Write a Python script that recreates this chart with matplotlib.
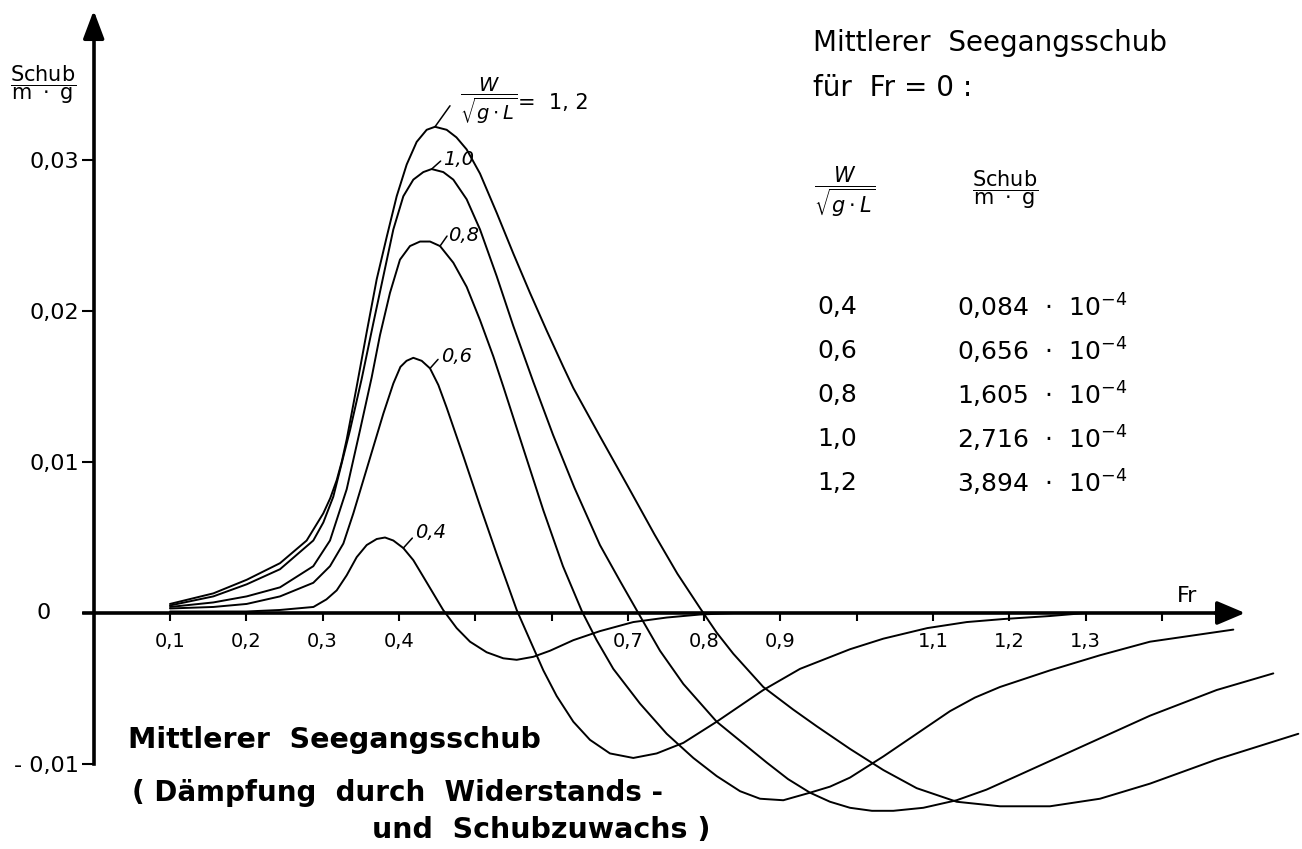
import matplotlib
matplotlib.use("Agg")
import matplotlib.pyplot as plt

plt.rcParams['font.family'] = ['DejaVu Sans']
plt.rcParams['mathtext.fontset'] = 'dejavusans'

# mittlerer Seegangsschub Schub/(m*g) over Fr, one list pair per W/sqrt(g*L)
fr_04 = [0.10, 0.15, 0.20, 0.244, 0.288, 0.305, 0.3185, 0.3316, 0.3447, 0.3578, 0.3709, 0.3818,
         0.3927, 0.4058, 0.4189, 0.4320, 0.4450, 0.4580, 0.4757, 0.4932, 0.5150, 0.5368, 0.5544, 0.5762,
         0.5980, 0.6286, 0.6635, 0.7072, 0.7510, 0.7947, 0.84]
sc_04 = [0.0001, 0.0001, 0.0001, 0.0002, 0.0004, 0.0009, 0.0015, 0.0025, 0.0037, 0.0045, 0.0049, 0.0050,
         0.0048, 0.0043, 0.0035, 0.0024, 0.0013, 0.0002, -0.0010, -0.0019, -0.0026, -0.0030, -0.0031, -0.0029,
         -0.0025, -0.0018, -0.0012, -0.0006, -0.0003, -0.0001, 0.0]

fr_06 = [0.10, 0.1568, 0.2005, 0.2442, 0.2878, 0.3097, 0.3272, 0.3403, 0.3534, 0.3665, 0.3796, 0.3927,
         0.4020, 0.4100, 0.4189, 0.4299, 0.4408, 0.4517, 0.4626, 0.4735, 0.4844, 0.5063, 0.5282, 0.5544,
         0.5718, 0.5893, 0.6068, 0.6286, 0.6504, 0.6766, 0.7072, 0.7379, 0.7728, 0.8165, 0.8776, 0.9257,
         0.9912, 1.0349, 1.0925, 1.1442, 1.1921, 1.2533, 1.30]
sc_06 = [0.0003, 0.0004, 0.0006, 0.0011, 0.0020, 0.0031, 0.0046, 0.0066, 0.0088, 0.0110, 0.0132, 0.0152,
         0.0163, 0.0167, 0.0169, 0.0167, 0.0162, 0.0151, 0.0136, 0.0120, 0.0104, 0.0071, 0.0039, 0.0002,
         -0.0018, -0.0038, -0.0055, -0.0072, -0.0084, -0.0093, -0.0096, -0.0093, -0.0086, -0.0072, -0.0051, -0.0037,
         -0.0024, -0.0017, -0.0010, -0.0006, -0.0004, -0.0002, 0.0]

fr_08 = [0.10, 0.1568, 0.2005, 0.2442, 0.2878, 0.3097, 0.3316, 0.3490, 0.3643, 0.3752, 0.3883, 0.4014,
         0.4145, 0.4277, 0.4408, 0.4539, 0.4713, 0.4888, 0.5063, 0.5237, 0.5368, 0.5630, 0.5893, 0.6150,
         0.640, 0.6592, 0.6810, 0.7160, 0.7510, 0.7859, 0.8165, 0.8471, 0.8733, 0.9038, 0.9388, 0.9650,
         0.9912, 1.0130, 1.0349, 1.0786, 1.1223, 1.155, 1.1878, 1.2533, 1.3188, 1.3844, 1.4936]
sc_08 = [0.0004, 0.0007, 0.0011, 0.0017, 0.0031, 0.0048, 0.0082, 0.0121, 0.0156, 0.0184, 0.0212, 0.0234,
         0.0243, 0.0246, 0.0246, 0.0243, 0.0232, 0.0216, 0.0194, 0.0170, 0.0150, 0.0109, 0.0068, 0.0031,
         0.0001, -0.0018, -0.0037, -0.0060, -0.0080, -0.0096, -0.0108, -0.0118, -0.0123, -0.0124, -0.0119, -0.0115,
         -0.0109, -0.0102, -0.0095, -0.0080, -0.0065, -0.0056, -0.0049, -0.0038, -0.0028, -0.0019, -0.0011]

fr_10 = [0.10, 0.1568, 0.2005, 0.2442, 0.2878, 0.3010, 0.3140, 0.3359, 0.3512, 0.3665, 0.3796, 0.3927,
         0.4058, 0.4189, 0.4320, 0.4429, 0.4582, 0.4713, 0.4888, 0.5063, 0.5282, 0.5500, 0.5762, 0.6020,
         0.6300, 0.6635, 0.6900, 0.716, 0.7422, 0.7728, 0.8165, 0.8820, 0.9100, 0.9388, 0.9650, 0.9912,
         1.020, 1.048, 1.0873, 1.131, 1.170, 1.2097, 1.2970, 1.3844, 1.4718, 1.5460]
sc_10 = [0.0005, 0.0011, 0.0019, 0.0029, 0.0048, 0.0060, 0.0077, 0.0121, 0.0155, 0.0192, 0.0223, 0.0254,
         0.0276, 0.0287, 0.0292, 0.0294, 0.0292, 0.0287, 0.0274, 0.0254, 0.0223, 0.0190, 0.0153, 0.0118,
         0.0083, 0.0045, 0.0021, -0.0002, -0.0025, -0.0047, -0.0072, -0.0099, -0.0110, -0.0119, -0.0125, -0.0129,
         -0.0131, -0.0131, -0.0129, -0.0124, -0.0117, -0.0108, -0.0088, -0.0068, -0.0051, -0.0040]

fr_12 = [0.10, 0.1568, 0.2005, 0.2442, 0.2791, 0.3009, 0.3100, 0.3185, 0.3250, 0.3316, 0.3380, 0.3447,
         0.3578, 0.3709, 0.3840, 0.3971, 0.4102, 0.4233, 0.4364, 0.4473, 0.4626, 0.4754, 0.4888, 0.5063,
         0.5282, 0.5500, 0.5718, 0.5937, 0.6155, 0.6286, 0.6635, 0.700, 0.735, 0.765, 0.795, 0.8165,
         0.8383, 0.8776, 0.9169, 0.9476, 0.9912, 1.0349, 1.0786, 1.131, 1.1878, 1.2533, 1.3188, 1.3844,
         1.4718, 1.5788]
sc_12 = [0.0006, 0.0013, 0.0022, 0.0033, 0.0048, 0.0066, 0.0076, 0.0088, 0.0100, 0.0115, 0.0132, 0.0150,
         0.0186, 0.0221, 0.0249, 0.0276, 0.0297, 0.0312, 0.0320, 0.0322, 0.0320, 0.0315, 0.0307, 0.0291,
         0.0265, 0.0238, 0.0212, 0.0187, 0.0163, 0.0149, 0.0117, 0.0084, 0.0052, 0.0026, 0.0003, -0.0013,
         -0.0027, -0.0049, -0.0064, -0.0075, -0.0090, -0.0104, -0.0116, -0.0125, -0.0128, -0.0128, -0.0123, -0.0113,
         -0.0097, -0.0080]

x_ticks = [0.1, 0.2, 0.3, 0.4, 0.5, 0.6, 0.7, 0.8, 0.9, 1.0, 1.1, 1.2, 1.3, 1.4]
x_labels = ['0,1', '0,2', '0,3', '0,4', '', '', '0,7', '0,8', '0,9', '', '1,1', '1,2', '1,3', '']
y_ticks = [-0.01, 0.0, 0.01, 0.02, 0.03]
y_labels = ['- 0,01', '', '0,01', '0,02', '0,03']

# table: mean thrust at Fr = 0
tab_w = ['0,4', '0,6', '0,8', '1,0', '1,2']
tab_schub = ['0,084', '0,656', '1,605', '2,716', '3,894']

W, H = 1302, 849
fig = plt.figure(figsize=(W / 100, H / 100), dpi=100)
ax = fig.add_axes([0, 0, 1, 1])
ax.set_xlim(-93.7 / 763, (W - 93.7) / 763)
ax.set_ylim((613 - H) / 15100, 613 / 15100)


def P(x, y):
    # pixel position -> figure fraction (for the lettering)
    return x / W, 1 - y / H


for fr, sc in [(fr_04, sc_04), (fr_06, sc_06), (fr_08, sc_08), (fr_10, sc_10), (fr_12, sc_12)]:
    ax.plot(fr, sc, color='k', lw=1.4, solid_capstyle='round', solid_joinstyle='round')

# axes with arrow heads
for s in ['top', 'right']:
    ax.spines[s].set_visible(False)
ax.spines['left'].set_position(('data', 0))
ax.spines['bottom'].set_position(('data', 0))
ax.spines['left'].set_bounds(-0.01, 0.0385)
ax.spines['bottom'].set_bounds(-0.013, 1.48)
ax.spines['left'].set_linewidth(2.6)
ax.spines['bottom'].set_linewidth(2.6)
ax.annotate('', xy=(0, 0.0399), xytext=(0, 0.0380),
            arrowprops=dict(arrowstyle='-|>,head_length=0.85,head_width=0.32', mutation_scale=20,
                            lw=2.6, color='k', shrinkA=0, shrinkB=0))
ax.annotate('', xy=(1.509, 0), xytext=(1.47, 0),
            arrowprops=dict(arrowstyle='-|>,head_length=0.85,head_width=0.36', mutation_scale=20,
                            lw=2.6, color='k', shrinkA=0, shrinkB=0))

ax.set_xticks(x_ticks)
ax.set_xticklabels(x_labels)
ax.set_yticks(y_ticks)
ax.set_yticklabels(y_labels)
ax.tick_params(axis='x', direction='out', length=6, width=1.5, pad=8, labelsize=14)
ax.tick_params(axis='y', direction='out', length=8.5, width=1.5, pad=2, labelsize=16)
ax.annotate('0', xy=(0, 0), xytext=(-43 * 0.72, 0), textcoords='offset points',
            ha='right', va='center', fontsize=16)

fig.text(*P(1177, 596), 'Fr', fontsize=16, ha='left', va='center')

# y axis name
fig.text(*P(43, 85), r'$\dfrac{\mathrm{Schub}}{\mathrm{m\ \cdot\ g}}$', fontsize=15,
         ha='center', va='center')

# curve labels with short leader lines (offsets in px)
k = 0.72  # px -> pt
lead_kw = dict(arrowstyle='-', lw=1.1, color='k', shrinkA=0, shrinkB=0)
i = sc_12.index(max(sc_12))
ax.annotate('', xy=(fr_12[i], sc_12[i]), xytext=(15 * k, 21 * k), textcoords='offset points', arrowprops=lead_kw)
ax.annotate(r'$\dfrac{W}{\sqrt{g\cdot L}}$', xy=(fr_12[i], sc_12[i]), xytext=(25 * k, 26 * k),
            textcoords='offset points', fontsize=14, ha='left', va='center')
ax.annotate('=  1, 2', xy=(fr_12[i], sc_12[i]), xytext=(83 * k, 24 * k),
            textcoords='offset points', fontsize=15, ha='left', va='center')

labels = [(fr_10, sc_10, '1,0', 0.4429, (9, 8), (11, 10)),
          (fr_08, sc_08, '0,8', 0.4539, (7, 10), (8, 11)),
          (fr_06, sc_06, '0,6', 0.4408, (8, 9), (11, 12)),
          (fr_04, sc_04, '0,4', 0.4058, (9, 10), (12, 16))]
for fr, sc, txt, f0, (lx, ly), (tx, ty) in labels:
    j = min(range(len(fr)), key=lambda n: abs(fr[n] - f0))
    ax.annotate('', xy=(fr[j], sc[j]), xytext=(lx * k, ly * k), textcoords='offset points', arrowprops=lead_kw)
    ax.annotate(txt, xy=(fr[j], sc[j]), xytext=(tx * k, ty * k), textcoords='offset points',
                fontsize=14, style='italic', ha='left', va='center')

# table on the right
fig.text(*P(813, 51), 'Mittlerer  Seegangsschub', fontsize=20, ha='left', va='baseline')
fig.text(*P(813, 96), 'für  Fr = 0 :', fontsize=20, ha='left', va='baseline')
fig.text(*P(814, 192), r'$\dfrac{W}{\sqrt{g\cdot L}}$', fontsize=15, ha='left', va='center')
fig.text(*P(1005, 190), r'$\dfrac{\mathrm{Schub}}{\mathrm{m\ \cdot\ g}}$', fontsize=15,
         ha='center', va='center')
for n, (a, b) in enumerate(zip(tab_w, tab_schub)):
    y = 307 + 44 * n
    fig.text(*P(817, y), a, fontsize=18, ha='left', va='center')
    fig.text(*P(957, y), b + r'  $\cdot$  10$^{-4}$', fontsize=18, ha='left', va='center')

# caption
fig.text(*P(128, 748), 'Mittlerer  Seegangsschub', fontsize=20.5, fontweight='bold', ha='left', va='baseline')
fig.text(*P(132, 801), '( Dämpfung  durch  Widerstands -', fontsize=20, fontweight='bold',
         ha='left', va='baseline')
fig.text(*P(372, 838), 'und  Schubzuwachs )', fontsize=20.5, fontweight='bold', ha='left', va='baseline')

fig.savefig('out.png', dpi=100)
